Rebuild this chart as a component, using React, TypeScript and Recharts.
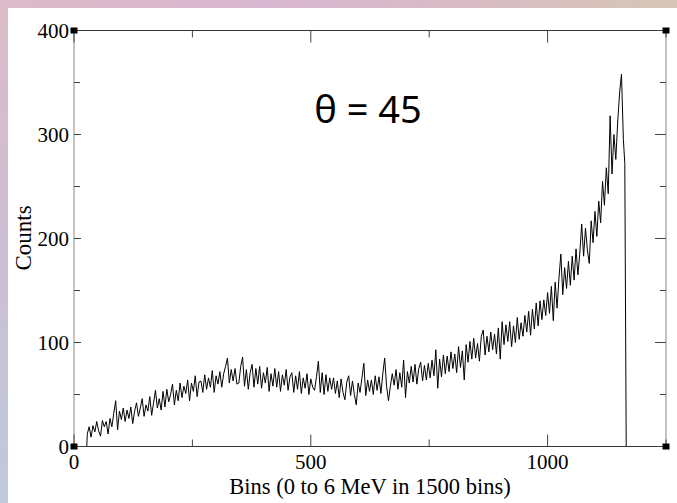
import React from 'react';
import { LineChart, Line, XAxis, YAxis } from 'recharts';

const TITLE = 'θ = 45';
const X_LABEL = 'Bins (0 to 6 MeV in 1500 bins)';
const Y_LABEL = 'Counts';

const X_TICKS = [0, 250, 500, 750, 1000, 1250];
const X_LABELED = [0, 500, 1000];
const Y_TICKS = [0, 50, 100, 150, 200, 250, 300, 350, 400];
const Y_LABELED = [0, 100, 200, 300, 400];

const HEAD_BINS = [27];
const HEAD_COUNTS = [0];
const BIN_START = 28;
const BIN_STEP = 4;
const COUNTS = [
  12, 19, 9, 20, 14, 24, 15, 10, 25, 19,
  24, 12, 27, 19, 32, 44, 16, 34, 26, 37,
  24, 35, 27, 38, 22, 34, 42, 29, 37, 46,
  29, 40, 34, 48, 30, 42, 54, 37, 46, 35,
  53, 38, 55, 43, 50, 60, 40, 54, 44, 61,
  47, 58, 51, 64, 44, 61, 53, 68, 48, 62,
  63, 52, 69, 55, 66, 57, 73, 52, 68, 60,
  72, 57, 70, 77, 85, 61, 74, 63, 75, 60,
  61, 77, 86, 58, 74, 55, 71, 79, 57, 75,
  60, 77, 56, 71, 61, 76, 53, 70, 58, 75,
  57, 72, 53, 69, 59, 74, 54, 67, 71, 52,
  68, 55, 72, 51, 66, 56, 70, 50, 65, 57,
  54, 67, 82, 52, 71, 50, 69, 53, 66, 55,
  66, 51, 63, 47, 65, 52, 45, 62, 68, 49,
  63, 50, 40, 61, 52, 66, 80, 49, 64, 53,
  64, 50, 68, 54, 67, 51, 70, 85, 58, 44,
  58, 70, 59, 74, 55, 71, 57, 83, 47, 72,
  61, 77, 62, 79, 60, 75, 81, 63, 78, 64,
  80, 66, 83, 68, 93, 56, 84, 67, 88, 70,
  87, 72, 91, 75, 89, 71, 96, 76, 92, 64,
  98, 81, 101, 84, 104, 85, 99, 82, 106, 112,
  88, 106, 91, 110, 93, 108, 89, 114, 84, 120,
  98, 117, 101, 120, 96, 116, 100, 124, 103, 119,
  106, 126, 110, 130, 107, 132, 113, 138, 116, 140,
  122, 141, 126, 148, 128, 154, 121, 158, 133, 162,
  185, 146, 172, 152, 178, 155, 183, 160, 190, 165,
  186, 214, 183, 210, 189, 176, 217, 196, 226, 202,
  236, 215, 255, 232, 268, 243, 318, 262, 300, 276,
  312, 340, 358, 295,
];
const TAIL_BINS = [1163, 1166];
const TAIL_COUNTS = [272, 0];

const data = [
  ...HEAD_BINS.map((b, i) => ({ bin: b, count: HEAD_COUNTS[i] })),
  ...COUNTS.map((c, i) => ({ bin: BIN_START + i * BIN_STEP, count: c })),
  ...TAIL_BINS.map((b, i) => ({ bin: b, count: TAIL_COUNTS[i] })),
];

const SERIF = '"Liberation Serif", "Times New Roman", serif';
const TICK_COLOR = '#444';

const BottomTick = (props: any) => {
  const { x, y, payload } = props;
  const v = payload.value;
  const major = X_LABELED.includes(v);
  const len = major ? 12 : 7;
  return (
    <g>
      <line x1={x} y1={y} x2={x} y2={y - len} stroke={TICK_COLOR} strokeWidth={1} />
      {major && (
        <text x={x} y={y + 22} textAnchor="middle" fontFamily={SERIF} fontSize={21} fill="#000">
          {v}
        </text>
      )}
    </g>
  );
};

const TopTick = (props: any) => {
  const { x, y, payload } = props;
  const major = X_LABELED.includes(payload.value);
  const len = major ? 12 : 7;
  return <line x1={x} y1={y} x2={x} y2={y + len} stroke={TICK_COLOR} strokeWidth={1} />;
};

const LeftTick = (props: any) => {
  const { x, y, payload } = props;
  const v = payload.value;
  const major = Y_LABELED.includes(v);
  const corner = v === 0 || v === 400;
  return (
    <g>
      <line x1={x} y1={y} x2={x + (major ? 7 : 6)} y2={y} stroke={TICK_COLOR} strokeWidth={1} />
      {corner && <rect x={x - 3.5} y={y - 3} width={7} height={6} fill="#000" />}
      {major && (
        <text x={x - 5} y={y} dy="0.35em" textAnchor="end" fontFamily={SERIF} fontSize={21} fill="#000">
          {v}
        </text>
      )}
    </g>
  );
};

const RightTick = (props: any) => {
  const { x, y, payload } = props;
  const v = payload.value;
  const major = Y_LABELED.includes(v);
  const corner = v === 0 || v === 400;
  return (
    <g>
      <line x1={x} y1={y} x2={x - (major ? 11 : 6)} y2={y} stroke={TICK_COLOR} strokeWidth={1} />
      {corner && <rect x={x - 3.5} y={y - 3} width={7} height={6} fill="#000" />}
    </g>
  );
};

export default function App() {
  React.useEffect(() => {
    document.body.style.margin = '0';
  }, []);
  return (
    <div
      style={{
        position: 'relative',
        width: 677,
        height: 503,
        background: 'linear-gradient(to bottom, #dcbcc8 0%, #cdbfd4 50%, #bfcadc 100%)',
        overflow: 'hidden',
      }}
    >
      <div
        style={{
          position: 'absolute',
          left: 0,
          top: 0,
          width: 677,
          height: 8,
          background: 'linear-gradient(to right, #dcbcc8 0%, #d8b6d0 40%, #d8bcc4 70%, #d6c6b6 100%)',
        }}
      />
      <div style={{ position: 'absolute', left: 8, top: 8, width: 669, height: 495, background: '#fff' }}>
        <LineChart
          width={669}
          height={495}
          data={data}
          margin={{ top: 21.5, right: 10, bottom: 55.5, left: 65 }}
        >
          <XAxis
            dataKey="bin"
            type="number"
            domain={[0, 1250]}
            ticks={X_TICKS}
            interval={0}
            allowDataOverflow
            height={1}
            tickSize={0}
            tickMargin={0}
            tick={<BottomTick />}
            tickLine={false}
            axisLine={{ stroke: '#333', strokeWidth: 1 }}
          />
          <XAxis
            xAxisId="top"
            orientation="top"
            dataKey="bin"
            type="number"
            domain={[0, 1250]}
            ticks={X_TICKS}
            interval={0}
            allowDataOverflow
            height={1}
            tickSize={0}
            tickMargin={0}
            tick={<TopTick />}
            tickLine={false}
            axisLine={{ stroke: '#333', strokeWidth: 1 }}
          />
          <YAxis
            type="number"
            domain={[0, 400]}
            ticks={Y_TICKS}
            interval={0}
            allowDataOverflow
            width={1}
            tickSize={0}
            tickMargin={0}
            tick={<LeftTick />}
            tickLine={false}
            axisLine={{ stroke: '#888', strokeWidth: 1 }}
          />
          <YAxis
            yAxisId="right"
            orientation="right"
            type="number"
            domain={[0, 400]}
            ticks={Y_TICKS}
            interval={0}
            allowDataOverflow
            width={1}
            tickSize={0}
            tickMargin={0}
            tick={<RightTick />}
            tickLine={false}
            axisLine={{ stroke: '#888', strokeWidth: 1 }}
          />
          <Line
            type="linear"
            dataKey="count"
            stroke="#000"
            strokeWidth={1}
            dot={false}
            activeDot={false}
            isAnimationActive={false}
          />
        </LineChart>
        <svg
          width={669}
          height={495}
          style={{ position: 'absolute', left: 0, top: 0, pointerEvents: 'none' }}
        >
          <text x={360} y={115} textAnchor="middle" fontFamily='"Noto Sans", sans-serif' fontSize={38} fill="#000">
            {TITLE}
          </text>
          <text x={362} y={486} textAnchor="middle" fontFamily={SERIF} fontSize={22.5} fill="#000">
            {X_LABEL}
          </text>
          <text
            x={23}
            y={230}
            textAnchor="middle"
            fontFamily={SERIF}
            fontSize={23}
            fill="#000"
            transform="rotate(-90 23 230)"
          >
            {Y_LABEL}
          </text>
        </svg>
      </div>
    </div>
  );
}
